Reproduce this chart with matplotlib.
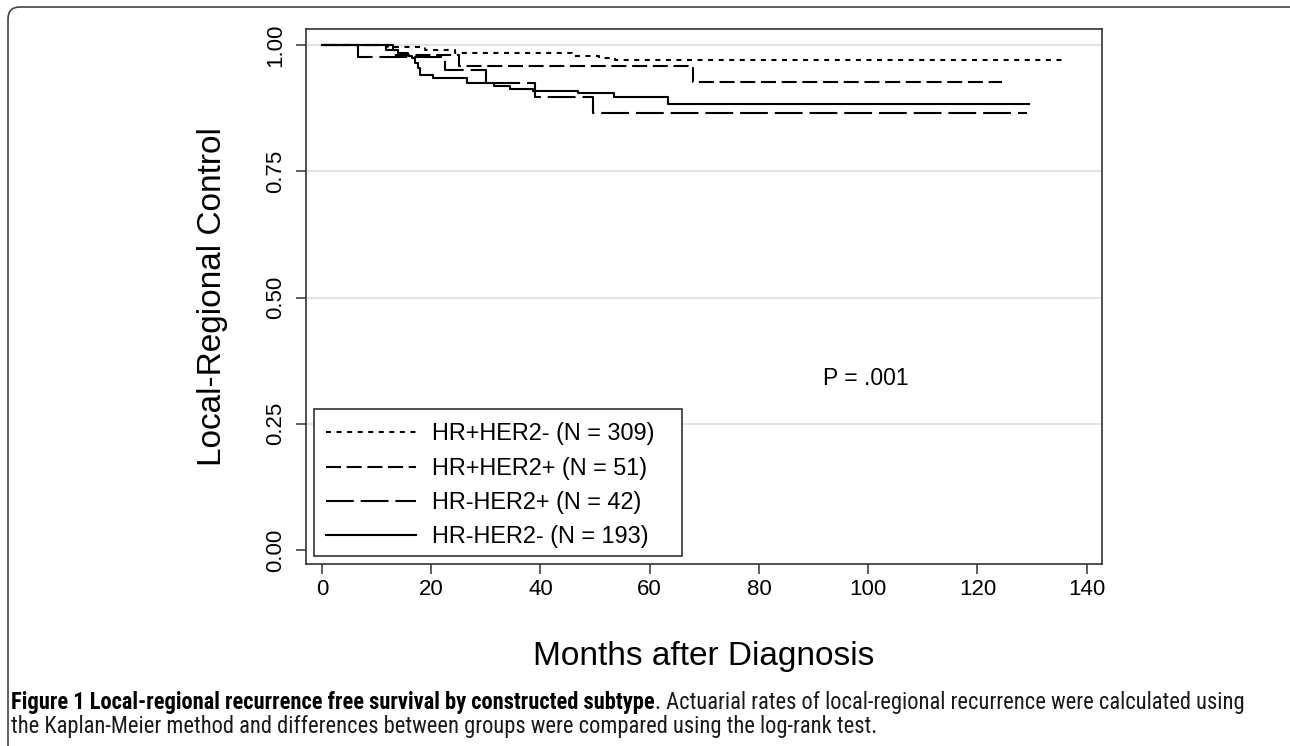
import matplotlib
matplotlib.use("Agg")
import matplotlib.pyplot as plt
from matplotlib import font_manager
from matplotlib.patches import FancyBboxPatch, Rectangle
from matplotlib.transforms import IdentityTransform

plt.rcParams['font.family'] = ['Liberation Sans', 'DejaVu Sans']
plt.rcParams['lines.scale_dashes'] = False

# ---------------- data ----------------
x_ticks = [0, 20, 40, 60, 80, 100, 120, 140]
y_ticks = [0.00, 0.25, 0.50, 0.75, 1.00]
y_tick_labels = ["0.00", "0.25", "0.50", "0.75", "1.00"]

labels = ["HR+HER2- (N = 309)", "HR+HER2+ (N = 51)",
          "HR-HER2+ (N = 42)", "HR-HER2- (N = 193)"]

t_hrp_her2n = [0, 12.0, 18.8, 24.3, 45.7, 50.7, 53.6, 135.4]
s_hrp_her2n = [1.0, 0.9967, 0.991, 0.9835, 0.978, 0.974, 0.970, 0.970]

t_hrp_her2p = [0, 13.0, 25.0, 68.0, 124.5]
s_hrp_her2p = [1.0, 0.980, 0.959, 0.927, 0.927]

t_hrn_her2p = [0, 6.6, 22.5, 30.1, 39.0, 49.7, 129.0]
s_hrn_her2p = [1.0, 0.976, 0.951, 0.925, 0.897, 0.865, 0.865]

t_hrn_her2n = [0, 11.8, 14.0, 15.8, 16.5, 17.0, 17.5, 18.0, 20.3, 26.5,
               31.4, 34.4, 38.7, 46.9, 53.5, 63.4, 129.5]
s_hrn_her2n = [1.0, 0.990, 0.984, 0.979, 0.974, 0.964, 0.954, 0.941, 0.935,
               0.924, 0.918, 0.913, 0.908, 0.904, 0.897, 0.883, 0.883]

p_text = "P = .001"
p_pos = (99.6, 0.34)
x_label = "Months after Diagnosis"
y_label = "Local-Regional Control"
cap_bold = "Figure 1 Local-regional recurrence free survival by constructed subtype"
cap_reg1 = ". Actuarial rates of local-regional recurrence were calculated using"
cap_reg2 = ("the Kaplan-Meier method and differences between groups were compared "
            "using the log-rank test.")

# ---------------- figure ----------------
W, H = 1290, 746
fig = plt.figure(figsize=(W / 100, H / 100), dpi=100)


def fy(py):
    return 1 - py / H


# outer rounded frame
frame = FancyBboxPatch((8, -12), 1300, H - 7 + 12,
                       boxstyle="round,pad=0,rounding_size=12",
                       transform=IdentityTransform(), fill=False,
                       edgecolor="#444444", linewidth=1.2)
fig.add_artist(frame)

AX_L, AX_T, AX_W, AX_H = 306, 29, 796, 535
ax = fig.add_axes([AX_L / W, 1 - (AX_T + AX_H) / H, AX_W / W, AX_H / H])
ax.set_xlim(-2.93, 142.8)
ax.set_ylim(-0.0277, 1.0317)


def axx(px):
    return (px - AX_L) / AX_W


def axy(py):
    return (AX_T + AX_H - py) / AX_H


for yv in y_ticks[1:]:
    ax.axhline(yv, color="#e4e4e4", lw=1.6, zorder=0)

styles = [(0, (3.6, 4.0)), (0, (10.8, 4.1)), (0, (20.0, 5.0)), "-"]
series = [(t_hrp_her2n, s_hrp_her2n), (t_hrp_her2p, s_hrp_her2p),
          (t_hrn_her2p, s_hrn_her2p), (t_hrn_her2n, s_hrn_her2n)]
for (t, s), ls, lab in zip(series, styles, labels):
    ax.step(t, s, where="post", color="black", lw=1.5, linestyle=ls, label=lab)

ax.set_xticks(x_ticks)
ax.set_xticklabels([str(v) for v in x_ticks])
ax.set_yticks(y_ticks)
ax.set_yticklabels(y_tick_labels, rotation=90, va="center")
ax.tick_params(axis="both", direction="out", length=7, width=1.1,
               color="#333333", labelsize=16, labelcolor="black")
ax.tick_params(axis="y", pad=7)
ax.tick_params(axis="x", pad=4)
for sp in ax.spines.values():
    sp.set_color("#333333")
    sp.set_linewidth(1.2)

ax.text(p_pos[0], p_pos[1], p_text, ha="center", va="center", fontsize=16.5)

# legend: box drawn separately, entries by ax.legend
ax.add_patch(Rectangle((axx(314), axy(556)), 368 / AX_W, 147 / AX_H,
                       transform=ax.transAxes, fill=True, facecolor="white",
                       edgecolor="#333333", linewidth=1.2, zorder=4))
leg = ax.legend(loc="upper left", bbox_to_anchor=(axx(326), axy(422.5)),
                borderaxespad=0, fontsize=16.9, handlelength=3.85,
                handletextpad=0.65, borderpad=0, labelspacing=0.48,
                frameon=False)
leg.set_zorder(5)

fig.text(213 / W, fy(297), y_label, rotation=90, ha="center", va="center",
         fontsize=24)
fig.text(704 / W, fy(665), x_label, ha="center", va="baseline", fontsize=24)

# ---------------- caption ----------------
names = {f.name for f in font_manager.fontManager.ttflist}
capfam = "Liberation Sans"
for cand in ["Liberation Sans Narrow", "Roboto Condensed", "Open Sans Condensed"]:
    if cand in names:
        capfam = cand
        break

size = 13.5
renderer = fig.canvas.get_renderer()
CAP_X = 11
t1 = fig.text(CAP_X / W, fy(709), cap_bold, fontweight="bold", fontsize=size,
              family=[capfam, "DejaVu Sans"], va="baseline", color="black")
t2 = fig.text(0, fy(709), cap_reg1, fontsize=size,
              family=[capfam, "DejaVu Sans"], va="baseline", color="#1a1a1a")
t3 = fig.text(CAP_X / W, fy(733), cap_reg2, fontsize=size,
              family=[capfam, "DejaVu Sans"], va="baseline", color="#1a1a1a")
for _ in range(3):
    b1 = t1.get_window_extent(renderer)
    t2.set_x(b1.x1 / W)
    b2 = t2.get_window_extent(renderer)
    total = b2.x1 - CAP_X
    size = size * (1250 - CAP_X) / total
    for tt in (t1, t2, t3):
        tt.set_fontsize(size)
b1 = t1.get_window_extent(renderer)
t2.set_x(b1.x1 / W)

fig.savefig("out.png", dpi=100)
